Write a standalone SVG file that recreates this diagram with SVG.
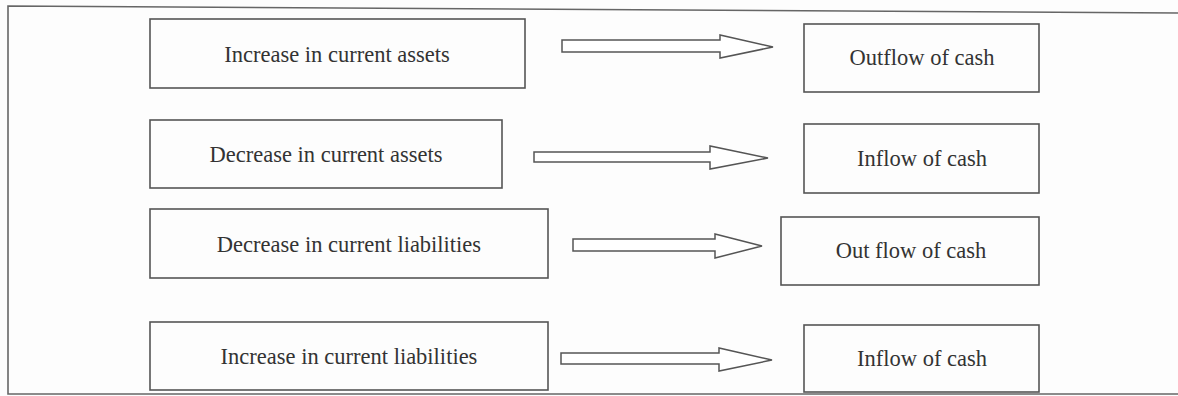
<svg xmlns="http://www.w3.org/2000/svg" width="1178" height="396" viewBox="0 0 1178 396">
<style>
.box{fill:none;stroke:#555;stroke-width:1.6}
.arr{fill:#fff;stroke:#555;stroke-width:1.5;stroke-linejoin:miter}
.frame{fill:none;stroke:#666;stroke-width:1.6}
text{font-family:"Liberation Serif","Times New Roman",serif;font-size:22.5px;fill:#333;text-anchor:middle}
</style>
<rect width="1178" height="396" fill="#fdfdfd"/>
<path class="frame" d="M1178,13 L8,6 L8,394 L1178,394"/>
<g id="connectors">
<polygon class="arr" points="562,40 720,40 720,35 773,47 720,58 720,52 562,52"/>
<polygon class="arr" points="534,152 710,152 710,146 768,158 710,169 710,162 534,162"/>
<polygon class="arr" points="573,239 715,239 715,234 762,246 715,258 715,251 573,251"/>
<polygon class="arr" points="561,353 719,353 719,348 772,360 719,371 719,364 561,364"/>
</g>
<g id="n1"><rect class="box" x="150" y="19" width="375" height="69"/><text x="337" y="62">Increase in current assets</text></g>
<g id="n2"><rect class="box" x="150" y="120" width="352" height="68"/><text x="326" y="162">Decrease in current assets</text></g>
<g id="n3"><rect class="box" x="150" y="209" width="398" height="69"/><text x="349" y="252">Decrease in current liabilities</text></g>
<g id="n4"><rect class="box" x="150" y="322" width="398" height="68"/><text x="349" y="364">Increase in current liabilities</text></g>
<g id="r1"><rect class="box" x="804" y="24" width="235" height="68"/><text x="922" y="65">Outflow of cash</text></g>
<g id="r2"><rect class="box" x="804" y="124" width="235" height="69"/><text x="922" y="166">Inflow of cash</text></g>
<g id="r3"><rect class="box" x="781" y="217" width="258" height="68"/><text x="911" y="258">Out flow of cash</text></g>
<g id="r4"><rect class="box" x="804" y="325" width="235" height="67"/><text x="922" y="366">Inflow of cash</text></g>
</svg>
